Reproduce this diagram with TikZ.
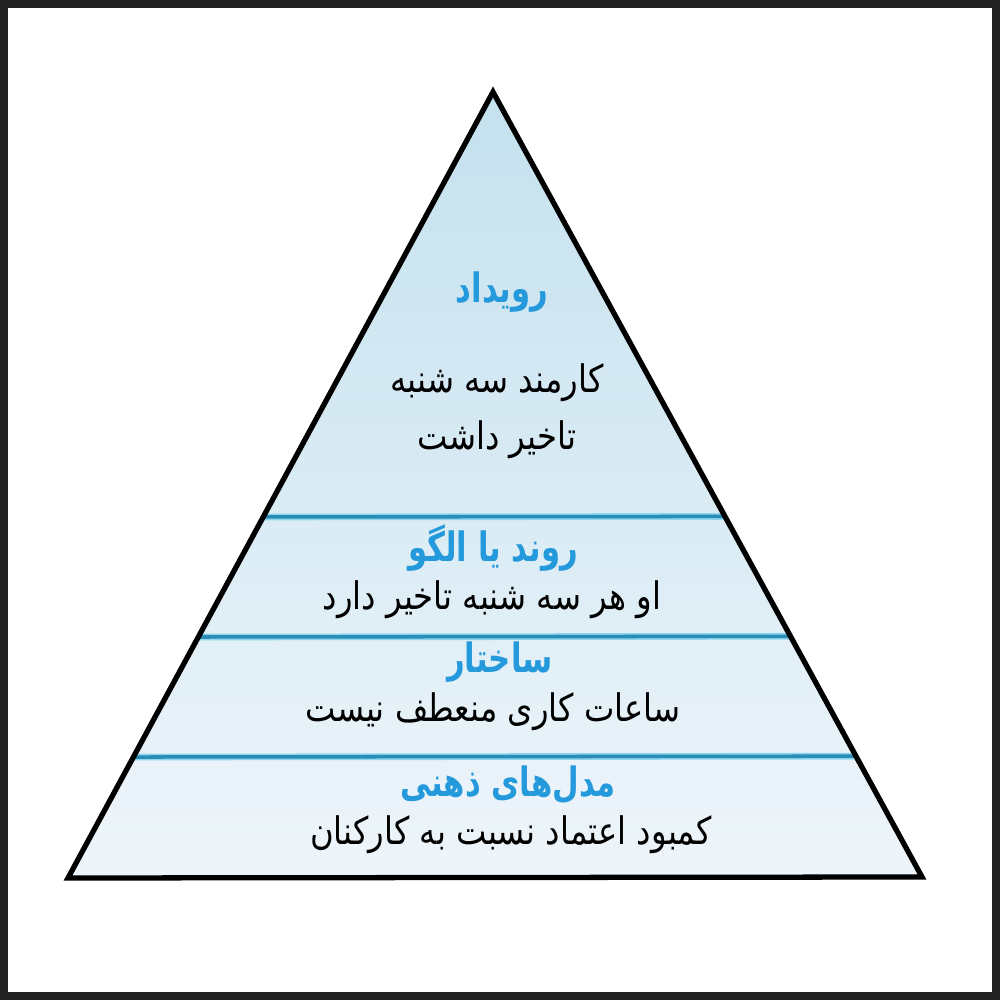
\documentclass[tikz,border=0pt]{standalone}
\usepackage{fontspec}
\usepackage{tikz}
\usetikzlibrary{calc}
\TeXXeTstate=1
\newfontfamily\arabicfont[Script=Arabic, FakeStretch=0.85]{DejaVu Sans}
\newfontfamily\arabictitle[Script=Arabic, FakeStretch=0.76]{DejaVu Sans}
\definecolor{framegray}{HTML}{222222}
\definecolor{topblue}{HTML}{C4E1EE}
\definecolor{lowblue}{HTML}{EEF5FA}
\definecolor{linecyan}{HTML}{8DD6EE}
\definecolor{lineblue}{HTML}{2A8DB6}
\definecolor{titleblue}{HTML}{2499DB}

\tikzset{
  layertitle/.style={font=\arabictitle\bfseries\fontsize{11.5}{13}\selectfont, text=titleblue},
  layertext/.style={font=\arabicfont\fontsize{10.8}{13}\selectfont, text=black},
  divider/.style={line width=1.9pt, linecyan},
  dividercore/.style={line width=1.0pt, lineblue}
}

\begin{document}
\begin{tikzpicture}
            \useasboundingbox (0,0) rectangle (10,10);
            \fill[framegray] (0,0) rectangle (10,10);
            \fill[white] (0.08,0.08) rectangle (9.92,9.92);

            \coordinate (apex) at (4.93, 9.08);
            \coordinate (bl) at (0.68, 1.22);
            \coordinate (br) at (9.22, 1.23);

            \shade[top color=topblue, bottom color=lowblue] (apex) -- (bl) -- (br) -- cycle;

            % layer dividers
            \foreach \t/\n in {0.4593/a, 0.3066/b, 0.1539/c} {
                \coordinate (l\n) at ($(bl)!\t!(apex)$);
                \coordinate (r\n) at ($(br)!\t!(apex)$);
                \draw[divider] (l\n) -- (r\n);
                \draw[dividercore] (l\n) -- (r\n);
            }

            \draw[line width=1.5pt, miter limit=20] (apex) -- (bl) -- (br) -- cycle;

            \node[layertitle] (event) at (5.02, 7.08) {\beginR رویداد\endR};
            \node[layertext] (event1) at (4.97, 6.17) {\beginR کارمند سه شنبه\endR};
            \node[layertext] (event2) at (4.97, 5.60) {\beginR تاخیر داشت\endR};

            \node[layertitle] (pattern) at (4.93, 4.52) {\beginR روند یا الگو\endR};
            \node[layertext] (pattern1) at (4.92, 4.00) {\beginR او هر سه شنبه تاخیر دارد\endR};

            \node[layertitle] (struct) at (5.00, 3.38) {\beginR ساختار\endR};
            \node[layertext] (struct1) at (4.93, 2.88) {\beginR ساعات کاری منعطف نیست\endR};

            \node[layertitle] (model) at (5.08, 2.15) {\beginR مدل‌های ذهنی\endR};
            \node[layertext] (model1) at (5.11, 1.65) {\beginR کمبود اعتماد نسبت به کارکنان\endR};
\end{tikzpicture}
\end{document}
